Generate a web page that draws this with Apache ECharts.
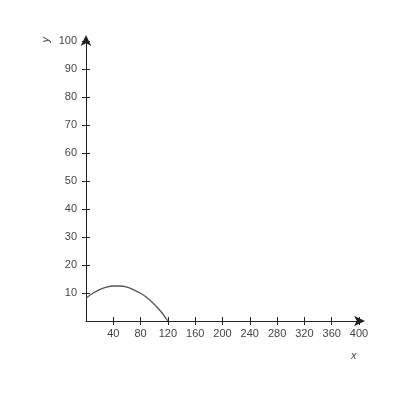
<!DOCTYPE html>
<html>
<head>
<meta charset="utf-8">
<script src="https://cdn.jsdelivr.net/npm/echarts@6/dist/echarts.min.js"></script>
<style>
  html, body { margin: 0; padding: 0; background: #fff; }
  #main { width: 400px; height: 400px; }
</style>
</head>
<body>
<div id="main"></div>
<script>
// 曲线取样点
var xValues = [0, 10, 20, 30, 40, 50, 60, 70, 80, 90, 100, 110, 120];
var yValues = [8.1, 9.9, 11.2, 12.1, 12.5, 12.5, 12.1, 11.1, 9.9, 8.2, 6.0, 3.3, 0];
var xTicks = [40, 80, 120, 160, 200, 240, 280, 320, 360, 400];
var yTicks = [10, 20, 30, 40, 50, 60, 70, 80, 90, 100];

var myChart = echarts.init(document.getElementById('main'));

var lineColor = '#222';
var labelStyle = { color: '#444', fontSize: 11, fontFamily: 'Liberation Sans, Arial, sans-serif' };

function axisOf(ticks, max, interval, pos, inside, main) {
    return {
        type: 'value', min: 0, max: max, interval: interval,
        position: pos,
        axisLine: main ? { show: true, symbol: ['none', 'arrow'], symbolSize: [8, 11], symbolOffset: [0, 6], lineStyle: { color: lineColor, width: 1 } } : { show: false },
        axisTick: { show: true, inside: inside, length: 4, customValues: ticks, lineStyle: { color: lineColor } },
        axisLabel: main ? Object.assign({ margin: pos === 'left' ? 9 : 7, customValues: ticks }, labelStyle) : { show: false },
        splitLine: { show: false }
    };
}

var option = {
    animation: false,
    grid: { left: 86, right: 41, top: 41, bottom: 79, containLabel: false },
    // 两条重合的轴：一条刻度朝外，一条刻度朝内，做出十字刻度
    xAxis: [axisOf(xTicks, 400, 40, 'bottom', false, true), axisOf(xTicks, 400, 40, 'bottom', true, false)],
    yAxis: [axisOf(yTicks, 100, 10, 'left', false, true), axisOf(yTicks, 100, 10, 'left', true, false)],
    graphic: [
        { type: 'text', left: 40, top: 37, rotation: Math.PI / 2,
          style: { text: 'y', fill: '#444', font: 'italic 11px Liberation Sans, Arial, sans-serif' } },
        { type: 'text', left: 351, top: 350,
          style: { text: 'x', fill: '#444', font: 'italic 11px Liberation Sans, Arial, sans-serif' } }
    ],
    series: [{
        type: 'line',
        xAxisIndex: 0, yAxisIndex: 0,
        data: xValues.map(function (x, i) { return [x, yValues[i]]; }),
        smooth: 0.4,
        showSymbol: false,
        lineStyle: { color: '#555', width: 1.3 }
    }]
};

myChart.setOption(option);
</script>
</body>
</html>
